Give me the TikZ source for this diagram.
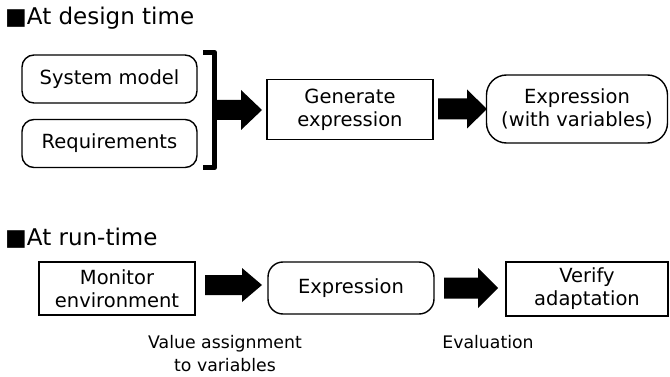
\documentclass[tikz,border=0pt]{standalone}
\usepackage{fontspec}
\setmainfont{DejaVu Sans}
\begin{document}
\begin{tikzpicture}[x=1pt,y=-1pt,
  heading/.style={anchor=base west,inner sep=0pt,font=\fontsize{23}{28}\selectfont},
  boxtext/.style={align=center,inner sep=0pt,line width=1.4pt,
    font=\fontsize{19.5}{23}\selectfont},
  sqbox/.style={boxtext,draw},
  rbox/.style={boxtext,draw,rounded corners=#1},
  caption/.style={align=center,inner sep=0pt,font=\fontsize{17.3}{23}\selectfont},
  blockarrow/.style={fill=black,draw=none},
  bracketline/.style={line width=5.5pt,line join=round}]
\useasboundingbox (0,0) rectangle (670,377);

% ---- design time ----
\node[heading] (h1) at (5,25) {■At design time};
\node[rbox=12pt,minimum width=175pt,minimum height=48pt] (sys) at (109.5,79) {System model};
\node[rbox=12pt,minimum width=175pt,minimum height=48pt] (req) at (109.5,143.5) {Requirements};
\node[sqbox,minimum width=166pt,minimum height=60pt] (gen) at (350,109.5) {Generate\\expression};
\node[rbox=20pt,minimum width=181pt,minimum height=68pt] (exv) at (577,109) {Expression\\(with variables)};

% bracket gathering the two inputs
\coordinate (bt) at (214.5,52.5);
\coordinate (bb) at (214.5,167.5);
\draw[bracketline] ([xshift=-11.5pt]bt) -- (bt) -- (bb) -- ([xshift=-11.5pt]bb);

% block arrows: tail x, tip x, centre y, body half, head half, head start
\newcommand\blockarr[6]{%
  \fill[blockarrow] (#1,#3-#4) -- (#6,#3-#4) -- (#6,#3-#5) -- (#2,#3)
    -- (#6,#3+#5) -- (#6,#3+#4) -- (#1,#3+#4) -- cycle;}
\blockarr{212}{262}{110}{10}{20}{241}
\blockarr{438}{487}{109}{10.5}{19.5}{467}

% ---- run time ----
\node[heading] (h2) at (5,245) {■At run-time};
\node[sqbox,minimum width=156pt,minimum height=53pt] (mon) at (117,288.5) {Monitor\\environment};
\node[rbox=15pt,minimum width=166pt,minimum height=52pt] (ex) at (351,288) {Expression};
\node[sqbox,minimum width=162pt,minimum height=54pt] (ver) at (587,289) {Verify\\adaptation};

\blockarr{205}{262}{285}{10}{17}{242}
\blockarr{444}{498}{288}{10.5}{20}{478}

\node[caption] (c1) at (225,354) {Value assignment\\to variables};
\node[caption] (c2) at (488,342) {Evaluation};
\end{tikzpicture}
\end{document}
